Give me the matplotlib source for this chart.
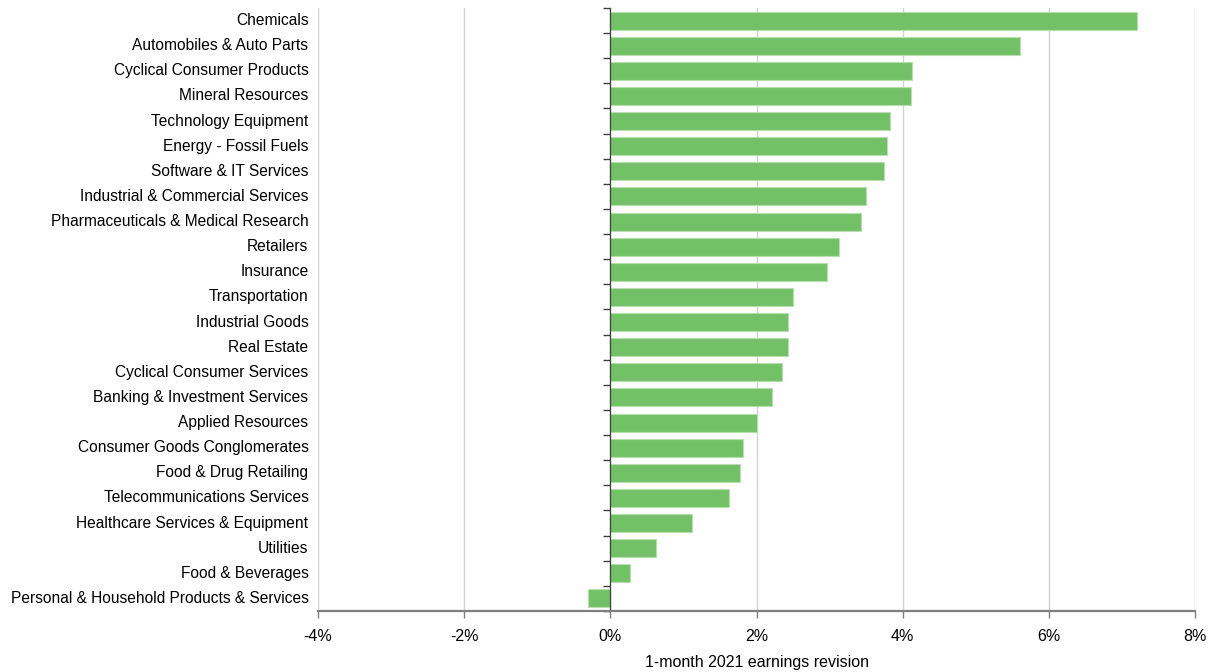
import matplotlib

matplotlib.use("Agg")

import matplotlib.pyplot as plt
import matplotlib.transforms as transforms
import numpy as np

plt.rcParams["font.family"] = ["Liberation Sans", "DejaVu Sans"]

SECTORS = [
    "Chemicals",
    "Automobiles & Auto Parts",
    "Cyclical Consumer Products",
    "Mineral Resources",
    "Technology Equipment",
    "Energy - Fossil Fuels",
    "Software & IT Services",
    "Industrial & Commercial Services",
    "Pharmaceuticals & Medical Research",
    "Retailers",
    "Insurance",
    "Transportation",
    "Industrial Goods",
    "Real Estate",
    "Cyclical Consumer Services",
    "Banking & Investment Services",
    "Applied Resources",
    "Consumer Goods Conglomerates",
    "Food & Drug Retailing",
    "Telecommunications Services",
    "Healthcare Services & Equipment",
    "Utilities",
    "Food & Beverages",
    "Personal & Household Products & Services",
]

REVISION_PCT = [
    7.20, 5.60, 4.13, 4.12, 3.82, 3.78, 3.74, 3.50, 3.43, 3.13, 2.97, 2.50,
    2.43, 2.43, 2.35, 2.21, 2.00, 1.82, 1.77, 1.62, 1.12, 0.62, 0.27, -0.30,
]

X_TICKS = [-4, -2, 0, 2, 4, 6, 8]

BAR_COLOR  = "#73c167"
EDGE_COLOR = "#b5e0ae"
GRID_COLOR = "#d4d4d4"

figure = plt.figure(figsize=(12.12, 6.72), dpi=100)
axis   = figure.add_axes([0.2624, 0.0908, 0.7236, 0.8973])

positions = np.arange(len(SECTORS))
axis.barh(positions, REVISION_PCT, height=0.72, color=BAR_COLOR, edgecolor=EDGE_COLOR, linewidth=0.8, zorder=3)

axis.set_xlim(X_TICKS[0], X_TICKS[-1])
axis.set_ylim(len(SECTORS) - 0.5, -0.5)

# vertical grid at every major x tick
for value in X_TICKS:
    axis.axvline(value, color=GRID_COLOR, linewidth=1.0, zorder=1)

axis.set_xticks(X_TICKS)
axis.set_xticklabels([f"{value}%" for value in X_TICKS])
axis.tick_params(axis="x", direction="out", length=5, width=1.0, color="#7f7f7f", labelsize=11.5, pad=8)
axis.set_xlabel("1-month 2021 earnings revision", fontsize=11.5, labelpad=8)

# category axis sits at zero, ticks between categories
for side in ("top", "right"):
    axis.spines[side].set_visible(False)
axis.spines["bottom"].set_color("#7f7f7f")
axis.spines["bottom"].set_linewidth(1.6)
axis.spines["bottom"].set_zorder(4)
axis.spines["left"].set_position(("data", 0))
axis.spines["left"].set_color("#404040")
axis.spines["left"].set_linewidth(0.9)
axis.spines["left"].set_zorder(4)

axis.set_yticks(np.arange(len(SECTORS) + 1) - 0.5)
axis.set_yticklabels([])
axis.tick_params(axis="y", direction="out", length=5, width=1.0, color="#404040")

label_transform = transforms.blended_transform_factory(axis.transAxes, axis.transData)
for position, sector in zip(positions, SECTORS):
    axis.text(-0.011, position, sector, transform=label_transform, ha="right", va="center", fontsize=11.2)

figure.savefig("out.png", dpi=100)
